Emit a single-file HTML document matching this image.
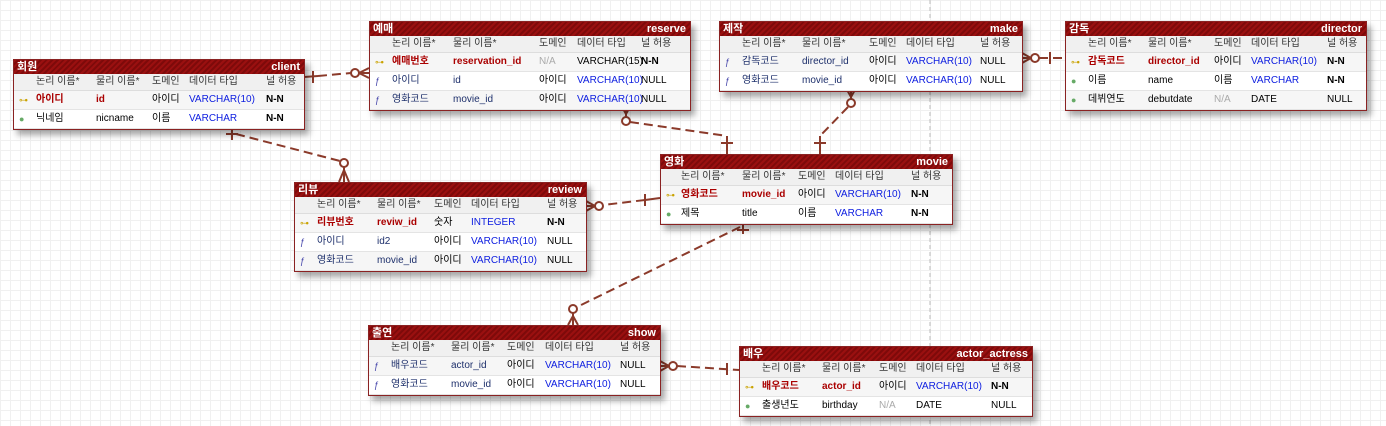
<!DOCTYPE html>
<html><head><meta charset="utf-8">
<style>
body{margin:0;width:1386px;height:426px;overflow:hidden;position:relative;font-family:"Liberation Sans","Noto Sans CJK KR","NanumGothic",sans-serif;font-size:10px;
background-color:#fff;background-image:linear-gradient(#f0f0f0 1px,transparent 1px),linear-gradient(90deg,#f0f0f0 1px,transparent 1px);background-size:10px 10px;}
.t{position:absolute;border:1px solid #8a2222;background:#fff;box-shadow:4px 5px 6px rgba(0,0,0,.35);}
.ti{height:14px;background:repeating-linear-gradient(135deg,#9a1010 0 2px,#7e0a0a 2px 4px);color:#fff;font-weight:bold;font-size:11px;line-height:14px;position:relative;}
.ti .l{position:absolute;left:3px}.ti .r{position:absolute;right:4px}
.h{height:16px;background:#f0f0f0;position:relative;color:#333;line-height:16px;border-bottom:1px solid #ddd}
.rw{height:18px;position:relative;line-height:18px;border-bottom:1px solid #e4e4e4}
.rw:nth-child(odd){background:#f6f6f6}
.h span,.rw span{position:absolute;white-space:nowrap}
.pk{color:#a00;font-weight:bold}
.fk{color:#1d2f6b}
.ty{color:#1020e0}
.na{color:#aaa}
.nn{font-weight:bold}
.ic{left:5px;font-size:9px}
</style></head><body>
<svg width="1386" height="426" style="position:absolute;left:0;top:0" fill="none" stroke="#8b3a2a" stroke-width="2">
<line x1="930" y1="0" x2="930" y2="426" stroke="#bbb" stroke-width="1" stroke-dasharray="4,3"/>
<g stroke-dasharray="9,5">
<line x1="318" y1="76" x2="351" y2="73"/>
<line x1="236" y1="134" x2="340" y2="161"/>
<line x1="630" y1="122" x2="727" y2="136"/>
<line x1="848" y1="107" x2="820" y2="136"/>
<line x1="1039" y1="58" x2="1065" y2="58"/>
<line x1="645" y1="200" x2="603" y2="205"/>
<line x1="740" y1="227" x2="577" y2="307"/>
<line x1="677" y1="366" x2="739" y2="370"/>
</g>
<g>
<line x1="304" y1="77" x2="318" y2="76"/>
<line x1="727" y1="136" x2="727" y2="154"/><line x1="721" y1="143" x2="733" y2="143"/>
<line x1="820" y1="136" x2="820" y2="154"/><line x1="814" y1="143" x2="826" y2="143"/>
<line x1="313" y1="71" x2="313" y2="83"/>
<circle cx="355" cy="73" r="4" fill="#fff"/><path d="M359 73 L369 68 M359 73 L369 73 M359 73 L369 78"/>
<line x1="232" y1="127" x2="232" y2="140"/><line x1="226" y1="134" x2="238" y2="134"/>
<circle cx="344" cy="163" r="4" fill="#fff"/><path d="M344 167 L344 182 M344 170 L339 182 M344 170 L349 182"/>
<circle cx="626" cy="121" r="4" fill="#fff"/><path d="M626 117 L626 105 M626 114 L621 105 M626 114 L631 105"/>
<circle cx="851" cy="103" r="4" fill="#fff"/><path d="M851 99 L851 88 M851 97 L846 88 M851 97 L856 88"/>
<circle cx="1035" cy="58" r="4" fill="#fff"/><path d="M1031 58 L1022 58 M1031 58 L1022 53 M1031 58 L1022 63"/>
<line x1="1050" y1="52" x2="1050" y2="64"/>
<circle cx="599" cy="206" r="4" fill="#fff"/><path d="M595 206 L586 206 M595 206 L586 201 M595 206 L586 211"/>
<line x1="645" y1="194" x2="645" y2="206"/><line x1="645" y1="200" x2="660" y2="198"/>
<line x1="743" y1="221" x2="743" y2="234"/><line x1="737" y1="230" x2="749" y2="230"/>
<circle cx="573" cy="309" r="4" fill="#fff"/><path d="M573 313 L573 325 M573 316 L568 325 M573 316 L578 325"/>
<circle cx="673" cy="366" r="4" fill="#fff"/><path d="M669 366 L660 366 M669 366 L660 361 M669 366 L660 371"/>
<line x1="727" y1="363" x2="727" y2="375"/>
</g>
</svg>

<div class="t" style="left:13px;top:59px;width:290px">
<div class="ti"><span class="l">회원</span><span class="r">client</span></div>
<div class="h"><span style="left:22px">논리 이름*</span><span style="left:82px">물리 이름*</span><span style="left:138px">도메인</span><span style="left:175px">데이터 타입</span><span style="left:252px">널 허용</span></div>
<div><div class="rw"><span class="ic" style="color:#c9a200">⊶</span><span class="pk" style="left:22px">아이디</span><span class="pk" style="left:82px">id</span><span style="left:138px">아이디</span><span class="ty" style="left:175px">VARCHAR(10)</span><span class="nn" style="left:252px">N-N</span></div>
<div class="rw"><span class="ic" style="color:#6a6">●</span><span style="left:22px">닉네임</span><span style="left:82px">nicname</span><span style="left:138px">이름</span><span class="ty" style="left:175px">VARCHAR</span><span class="nn" style="left:252px">N-N</span></div></div>
</div>

<div class="t" style="left:369px;top:21px;width:320px">
<div class="ti"><span class="l">예매</span><span class="r">reserve</span></div>
<div class="h"><span style="left:22px">논리 이름*</span><span style="left:83px">물리 이름*</span><span style="left:169px">도메인</span><span style="left:207px">데이터 타입</span><span style="left:271px">널 허용</span></div>
<div><div class="rw"><span class="ic" style="color:#c9a200">⊶</span><span class="pk" style="left:22px">예매번호</span><span class="pk" style="left:83px">reservation_id</span><span class="na" style="left:169px">N/A</span><span style="left:207px">VARCHAR(15)</span><span class="nn" style="left:271px">N-N</span></div>
<div class="rw"><span class="ic" style="color:#44a">ƒ</span><span class="fk" style="left:22px">아이디</span><span class="fk" style="left:83px">id</span><span style="left:169px">아이디</span><span class="ty" style="left:207px">VARCHAR(10)</span><span style="left:271px">NULL</span></div>
<div class="rw"><span class="ic" style="color:#44a">ƒ</span><span class="fk" style="left:22px">영화코드</span><span class="fk" style="left:83px">movie_id</span><span style="left:169px">아이디</span><span class="ty" style="left:207px">VARCHAR(10)</span><span style="left:271px">NULL</span></div></div>
</div>

<div class="t" style="left:719px;top:21px;width:302px">
<div class="ti"><span class="l">제작</span><span class="r">make</span></div>
<div class="h"><span style="left:22px">논리 이름*</span><span style="left:82px">물리 이름*</span><span style="left:149px">도메인</span><span style="left:186px">데이터 타입</span><span style="left:260px">널 허용</span></div>
<div><div class="rw"><span class="ic" style="color:#44a">ƒ</span><span class="fk" style="left:22px">감독코드</span><span class="fk" style="left:82px">director_id</span><span style="left:149px">아이디</span><span class="ty" style="left:186px">VARCHAR(10)</span><span style="left:260px">NULL</span></div>
<div class="rw"><span class="ic" style="color:#44a">ƒ</span><span class="fk" style="left:22px">영화코드</span><span class="fk" style="left:82px">movie_id</span><span style="left:149px">아이디</span><span class="ty" style="left:186px">VARCHAR(10)</span><span style="left:260px">NULL</span></div></div>
</div>

<div class="t" style="left:1065px;top:21px;width:300px">
<div class="ti"><span class="l">감독</span><span class="r">director</span></div>
<div class="h"><span style="left:22px">논리 이름*</span><span style="left:82px">물리 이름*</span><span style="left:148px">도메인</span><span style="left:185px">데이터 타입</span><span style="left:261px">널 허용</span></div>
<div><div class="rw"><span class="ic" style="color:#c9a200">⊶</span><span class="pk" style="left:22px">감독코드</span><span class="pk" style="left:82px">director_id</span><span style="left:148px">아이디</span><span class="ty" style="left:185px">VARCHAR(10)</span><span class="nn" style="left:261px">N-N</span></div>
<div class="rw"><span class="ic" style="color:#6a6">●</span><span style="left:22px">이름</span><span style="left:82px">name</span><span style="left:148px">이름</span><span class="ty" style="left:185px">VARCHAR</span><span class="nn" style="left:261px">N-N</span></div>
<div class="rw"><span class="ic" style="color:#6a6">●</span><span style="left:22px">데뷔연도</span><span style="left:82px">debutdate</span><span class="na" style="left:148px">N/A</span><span style="left:185px">DATE</span><span style="left:261px">NULL</span></div></div>
</div>

<div class="t" style="left:660px;top:154px;width:291px">
<div class="ti"><span class="l">영화</span><span class="r">movie</span></div>
<div class="h"><span style="left:20px">논리 이름*</span><span style="left:81px">물리 이름*</span><span style="left:137px">도메인</span><span style="left:174px">데이터 타입</span><span style="left:250px">널 허용</span></div>
<div><div class="rw"><span class="ic" style="color:#c9a200">⊶</span><span class="pk" style="left:20px">영화코드</span><span class="pk" style="left:81px">movie_id</span><span style="left:137px">아이디</span><span class="ty" style="left:174px">VARCHAR(10)</span><span class="nn" style="left:250px">N-N</span></div>
<div class="rw"><span class="ic" style="color:#6a6">●</span><span style="left:20px">제목</span><span style="left:81px">title</span><span style="left:137px">이름</span><span class="ty" style="left:174px">VARCHAR</span><span class="nn" style="left:250px">N-N</span></div></div>
</div>

<div class="t" style="left:294px;top:182px;width:291px">
<div class="ti"><span class="l">리뷰</span><span class="r">review</span></div>
<div class="h"><span style="left:22px">논리 이름*</span><span style="left:82px">물리 이름*</span><span style="left:139px">도메인</span><span style="left:176px">데이터 타입</span><span style="left:252px">널 허용</span></div>
<div><div class="rw"><span class="ic" style="color:#c9a200">⊶</span><span class="pk" style="left:22px">리뷰번호</span><span class="pk" style="left:82px">reviw_id</span><span style="left:139px">숫자</span><span class="ty" style="left:176px">INTEGER</span><span class="nn" style="left:252px">N-N</span></div>
<div class="rw"><span class="ic" style="color:#44a">ƒ</span><span class="fk" style="left:22px">아이디</span><span class="fk" style="left:82px">id2</span><span style="left:139px">아이디</span><span class="ty" style="left:176px">VARCHAR(10)</span><span style="left:252px">NULL</span></div>
<div class="rw"><span class="ic" style="color:#44a">ƒ</span><span class="fk" style="left:22px">영화코드</span><span class="fk" style="left:82px">movie_id</span><span style="left:139px">아이디</span><span class="ty" style="left:176px">VARCHAR(10)</span><span style="left:252px">NULL</span></div></div>
</div>

<div class="t" style="left:368px;top:325px;width:291px">
<div class="ti"><span class="l">출연</span><span class="r">show</span></div>
<div class="h"><span style="left:22px">논리 이름*</span><span style="left:82px">물리 이름*</span><span style="left:138px">도메인</span><span style="left:176px">데이터 타입</span><span style="left:251px">널 허용</span></div>
<div><div class="rw"><span class="ic" style="color:#44a">ƒ</span><span class="fk" style="left:22px">배우코드</span><span class="fk" style="left:82px">actor_id</span><span style="left:138px">아이디</span><span class="ty" style="left:176px">VARCHAR(10)</span><span style="left:251px">NULL</span></div>
<div class="rw"><span class="ic" style="color:#44a">ƒ</span><span class="fk" style="left:22px">영화코드</span><span class="fk" style="left:82px">movie_id</span><span style="left:138px">아이디</span><span class="ty" style="left:176px">VARCHAR(10)</span><span style="left:251px">NULL</span></div></div>
</div>

<div class="t" style="left:739px;top:346px;width:292px">
<div class="ti"><span class="l">배우</span><span class="r">actor_actress</span></div>
<div class="h"><span style="left:22px">논리 이름*</span><span style="left:82px">물리 이름*</span><span style="left:139px">도메인</span><span style="left:176px">데이터 타입</span><span style="left:251px">널 허용</span></div>
<div><div class="rw"><span class="ic" style="color:#c9a200">⊶</span><span class="pk" style="left:22px">배우코드</span><span class="pk" style="left:82px">actor_id</span><span style="left:139px">아이디</span><span class="ty" style="left:176px">VARCHAR(10)</span><span class="nn" style="left:251px">N-N</span></div>
<div class="rw"><span class="ic" style="color:#6a6">●</span><span style="left:22px">출생년도</span><span style="left:82px">birthday</span><span class="na" style="left:139px">N/A</span><span style="left:176px">DATE</span><span style="left:251px">NULL</span></div></div>
</div>
</body></html>
